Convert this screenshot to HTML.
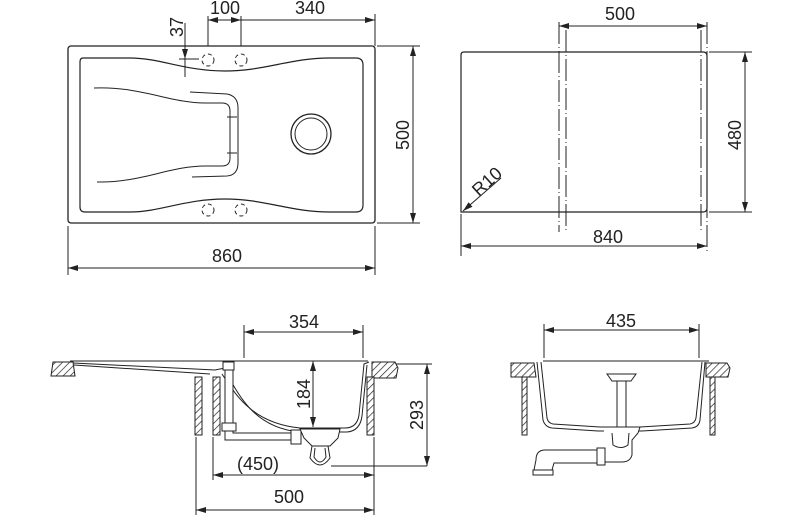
<!DOCTYPE html>
<html><head><meta charset="utf-8"><style>
html,body{margin:0;padding:0;background:#fff}
svg{display:block}
text{font-family:"Liberation Sans",sans-serif;font-size:18px;fill:#222}
</style></head><body>
<svg width="800" height="517" viewBox="0 0 800 517" xmlns="http://www.w3.org/2000/svg">
<defs>
<marker id="a" viewBox="0 0 10 6" refX="10" refY="3" markerWidth="10" markerHeight="6" orient="auto-start-reverse" markerUnits="userSpaceOnUse"><path d="M0,0 L10,3 L0,6 z" fill="#222"/></marker>
<pattern id="h" width="5" height="5" patternUnits="userSpaceOnUse" patternTransform="rotate(45)"><rect width="5" height="5" fill="#fff"/><line x1="0" y1="0" x2="0" y2="5" stroke="#222" stroke-width="1.4"/></pattern>
</defs>
<g fill="none" stroke="#222" stroke-width="1">
<rect x="68" y="46" width="307" height="177" rx="3" stroke-width="1.3"/>
<path d="M83,58 L130,58 C160,58 185,71 225,71 C265,71 290,58 330,58 L356,58 Q363,58 363,65 L363,205 Q363,212 356,212 L330,212 C290,212 265,199 225,199 C185,199 160,212 130,212 L85,212 Q80,212 80,207 L80,62 Q80,58 83,58 Z" stroke-width="1.2"/>
<path d="M94,88 C140,86 170,103 205,103 L222,103 Q230,103 230,111 L230,158 Q230,166 222,166 L205,166 C170,166 140,183 97,182"/>
<path d="M190,92 L227,94 Q238,96 238,108 L238,163 Q238,175 227,176 L192,177"/>
<line x1="227" y1="117" x2="237" y2="117"/><line x1="227" y1="153" x2="237" y2="153"/>
<circle cx="311" cy="134" r="20" stroke-width="1.3"/><circle cx="311" cy="134" r="16"/>
<g stroke-dasharray="4,3"><circle cx="208" cy="60" r="6"/><circle cx="241" cy="60" r="6"/><circle cx="208" cy="210" r="6"/><circle cx="241" cy="210" r="6"/></g>
<line x1="208" y1="16" x2="208" y2="46"/><line x1="241" y1="16" x2="241" y2="46"/><line x1="375" y1="14" x2="375" y2="46"/>
<line x1="208" y1="20" x2="241" y2="20" marker-start="url(#a)" marker-end="url(#a)"/>
<line x1="241" y1="20" x2="375" y2="20" marker-end="url(#a)"/>
<line x1="185" y1="23" x2="185" y2="59" marker-end="url(#a)"/><line x1="185" y1="59" x2="185" y2="77"/>
<line x1="179" y1="59" x2="199" y2="59"/>
<line x1="377" y1="46" x2="420" y2="46"/><line x1="377" y1="223" x2="420" y2="223"/>
<line x1="413" y1="46" x2="413" y2="223" marker-start="url(#a)" marker-end="url(#a)"/>
<line x1="68" y1="226" x2="68" y2="275"/><line x1="375" y1="226" x2="375" y2="275"/>
<line x1="68" y1="268" x2="375" y2="268" marker-start="url(#a)" marker-end="url(#a)"/>
<path d="M464,52 L703,52 Q707,52 707,56 L707,208 Q707,212 703,212 L461,212 L461,55 Q461,52 464,52 Z" stroke-width="1.2"/>
<g stroke-dasharray="22,3,1,3"><line x1="559" y1="22" x2="559" y2="232"/><line x1="566" y1="30" x2="566" y2="232"/><line x1="701" y1="30" x2="701" y2="232"/><line x1="707" y1="22" x2="707" y2="252"/></g>
<line x1="559" y1="26" x2="707" y2="26" marker-start="url(#a)" marker-end="url(#a)"/>
<line x1="709" y1="52" x2="752" y2="52"/><line x1="709" y1="212" x2="752" y2="212"/>
<line x1="745" y1="52" x2="745" y2="212" marker-start="url(#a)" marker-end="url(#a)"/>
<line x1="461" y1="214" x2="461" y2="256"/>
<line x1="461" y1="246" x2="707" y2="246" marker-start="url(#a)" marker-end="url(#a)"/>
<line x1="501" y1="178" x2="463" y2="211" marker-end="url(#a)"/>
<line x1="244" y1="325" x2="244" y2="358"/><line x1="363" y1="325" x2="363" y2="358"/>
<line x1="244" y1="332" x2="363" y2="332" marker-start="url(#a)" marker-end="url(#a)"/>
<path d="M53,362 L73,362 L75,376 L51,376 Z" fill="url(#h)"/>
<path d="M372,362 L395,362 L398,368 L396,378 L372,378 Z" fill="url(#h)"/>
<rect x="195" y="377" width="7" height="58" fill="url(#h)"/>
<rect x="213" y="377" width="7" height="58" fill="url(#h)"/>
<rect x="367" y="377" width="7" height="58" fill="url(#h)"/>
<path d="M70,361 L368,361"/>
<path d="M73,363 L215,370 L230,367"/>
<path d="M74,365 L210,374"/>
<path d="M222,374 C236,395 252,423 300,428 L345,428 Q357,428 359,415 L364,364 L369,362"/>
<path d="M226,372 C240,398 256,428 300,432 L347,432 Q360,431 362,416 L367,365"/>
<rect x="225" y="365" width="8" height="60" fill="#fff"/>
<rect x="223" y="362" width="11" height="8" fill="#fff"/>
<rect x="222" y="423" width="14" height="8" fill="#fff"/>
<path d="M225,431 L225,440 L295,440 M233,431 L233,433 L295,433"/>
<rect x="291" y="430" width="10" height="14" fill="#fff"/>
<path d="M300,429 L340,429 L338,438 L330,446 L312,446 L304,438 Z" fill="#fff"/>
<path d="M312,446 L310,458 Q320,472 330,458 L328,446 M315,448 L314,457 Q320,467 326,457 L325,448"/>
<line x1="331" y1="466" x2="427" y2="466"/>
<line x1="313" y1="361" x2="313" y2="427" marker-start="url(#a)" marker-end="url(#a)"/>
<line x1="396" y1="364" x2="432" y2="364"/>
<line x1="427" y1="364" x2="427" y2="466" marker-start="url(#a)" marker-end="url(#a)"/>
<line x1="213" y1="437" x2="213" y2="480"/><line x1="374" y1="437" x2="374" y2="515"/>
<line x1="213" y1="475" x2="374" y2="475" marker-start="url(#a)" marker-end="url(#a)"/>
<line x1="196" y1="437" x2="196" y2="515"/>
<line x1="196" y1="510" x2="374" y2="510" marker-start="url(#a)" marker-end="url(#a)"/>
<line x1="544" y1="324" x2="544" y2="358"/><line x1="699" y1="324" x2="699" y2="358"/>
<line x1="544" y1="330" x2="699" y2="330" marker-start="url(#a)" marker-end="url(#a)"/>
<path d="M511,363 L534,363 L536,377 L511,377 Z" fill="url(#h)"/>
<path d="M706,363 L727,363 L730,368 L728,377 L706,377 Z" fill="url(#h)"/>
<rect x="522" y="377" width="5" height="58" fill="url(#h)"/>
<rect x="710" y="377" width="5" height="58" fill="url(#h)"/>
<line x1="543" y1="361" x2="709" y2="361"/>
<path d="M541,362 L547,418 Q548,423 553,424 L600,427 L640,427 L690,424 Q695,423 696,418 L702,362"/>
<path d="M537,362 L543,420 Q545,427 552,428 L598,431 L642,431 L692,428 Q699,427 700,420 L705,362"/>
<path d="M607,374 L636,374 L631,381 L612,381 Z" fill="#fff"/>
<rect x="617" y="381" width="9" height="46" fill="#fff"/>
<path d="M604,427 L640,427 L638,433 L632,440 L632,455 Q630,462 622,462 L604,462" fill="#fff"/>
<path d="M612,433 L613,445 Q621,450 628,445 L629,433"/>
<rect x="597" y="448" width="8" height="17" fill="#fff"/>
<path d="M597,450 L545,450 Q536,450 536,460 L534,470 M597,463 L554,463 L552,470"/>
<rect x="533" y="470" width="20" height="5" fill="#fff"/>
</g>
<text x="225" y="14" text-anchor="middle">100</text>
<text x="310" y="14" text-anchor="middle">340</text>
<text transform="translate(183,27) rotate(-90)" text-anchor="middle">37</text>
<text transform="translate(409,135) rotate(-90)" text-anchor="middle">500</text>
<text x="227" y="262" text-anchor="middle">860</text>
<text x="620" y="20" text-anchor="middle">500</text>
<text transform="translate(741,135) rotate(-90)" text-anchor="middle">480</text>
<text x="608" y="243" text-anchor="middle">840</text>
<text transform="translate(491,186) rotate(-42)" text-anchor="middle">R10</text>
<text x="304" y="328" text-anchor="middle">354</text>
<text transform="translate(310,394) rotate(-90)" text-anchor="middle">184</text>
<text transform="translate(423,415) rotate(-90)" text-anchor="middle">293</text>
<text x="258" y="470" text-anchor="middle">(450)</text>
<text x="289" y="503" text-anchor="middle">500</text>
<text x="621" y="327" text-anchor="middle">435</text>
</svg>
</body></html>
